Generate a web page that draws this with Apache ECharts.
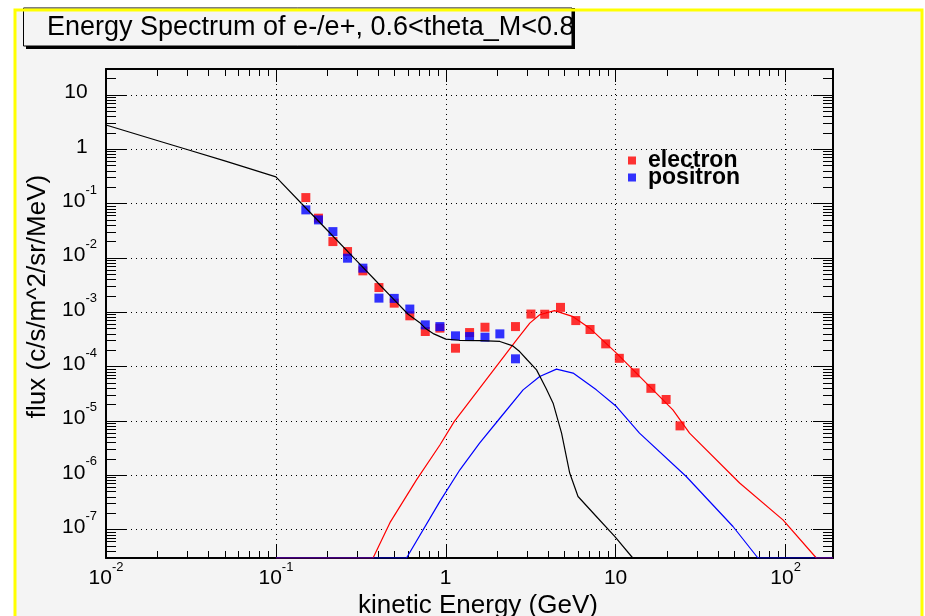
<!DOCTYPE html>
<html><head><meta charset="utf-8">
<script src="https://cdn.jsdelivr.net/npm/echarts@6/dist/echarts.min.js"></script>
<style>html,body{margin:0;padding:0;background:#fff}#c{width:925px;height:616px}</style>
</head><body><div id="c"></div>
<script>
// ---- text ----
const titleText = 'Energy Spectrum of e-/e+, 0.6<theta_M<0.8';
const xAxisTitle = 'kinetic Energy (GeV)';
const yAxisTitle = 'flux (c/s/m^2/sr/MeV)';
const legendNames = ['electron', 'positron'];
const xRange = [0.01, 190];
const yRange = [3e-8, 30];

// ---- measured points ----
const electronE = [0.15,0.178,0.2165,0.264,0.325,0.404,0.497,0.614,0.757,0.923,1.14,1.38,1.70,2.57,3.17,3.82,4.73,5.82,7.06,8.73,10.5,13.0,16.1,19.8,23.9];
const electronFlux = [0.129,0.0539,0.0200,0.0131,0.00578,0.00285,0.00147,8.6e-4,4.42e-4,5.1e-4,2.18e-4,4.23e-4,5.3e-4,5.45e-4,9.27e-4,9.2e-4,1.23e-3,7.03e-4,4.81e-4,2.62e-4,1.42e-4,7.67e-5,3.98e-5,2.48e-5,8.1e-6];
const positronE = [0.15,0.178,0.2165,0.264,0.325,0.404,0.497,0.614,0.757,0.923,1.14,1.38,1.70,2.08,2.57];
const positronFlux = [0.0766,0.0501,0.0305,0.00989,0.00648,0.00182,0.00180,0.001145,5.86e-4,5.45e-4,3.68e-4,3.57e-4,3.48e-4,4.0e-4,1.39e-4];

// ---- model curves ----
const totalModelE = [0.01,0.02,0.03,0.05,0.07,0.1,0.15,0.2,0.3,0.4,0.5,0.6,0.7,0.757,0.85,1.0,1.2,1.6,2.08,2.48,2.72,3.0,3.42,3.9,4.28,4.8,5.36,6.0,7.69,9.86,12.6];
const totalModelFlux = [2.8,1.45,0.99,0.61,0.44,0.31,0.083,0.0326,0.00873,0.00342,0.00166,9.2e-4,6.5e-4,5.1e-4,4.0e-4,3.2e-4,3.05e-4,3.0e-4,2.9e-4,2.4e-4,1.89e-4,1.35e-4,8.7e-5,3.9e-5,2.12e-5,5.96e-6,1.1e-6,4.06e-7,1.74e-7,7.5e-8,3e-8];
const electronModelE = [0.1,0.373,0.469,0.672,0.923,1.12,1.45,2.61,3.12,3.57,4.36,5.61,7.03,10.1,21.7,27.2,53.6,96.4,151.6,190];
const electronModelFlux = [3e-8,3e-8,1.34e-7,8.2e-7,3.6e-6,9.7e-6,2.8e-5,3.1e-4,6.3e-4,9.0e-4,1.07e-3,8.3e-4,5.1e-4,1.77e-4,1.6e-5,5.96e-6,7.2e-7,1.51e-7,3e-8,3e-8];
const positronModelE = [0.1,0.587,0.923,1.21,1.58,2.08,2.85,3.57,4.48,5.61,7.69,10.1,13.8,26.0,49.0,68.7,190];
const positronModelFlux = [3e-8,3e-8,3.3e-7,1.26e-6,3.9e-6,1.12e-5,3.73e-5,6.56e-5,8.97e-5,7.6e-5,3.73e-5,1.84e-5,5.96e-6,9.5e-7,1.14e-7,3e-8,3e-8];

const pairs = (xs, ys) => xs.map((x, i) => [x, ys[i]]);
const FONT = 'Liberation Sans, Arial, Helvetica, sans-serif';
const BG = '#f4f4f4';

function expLabel(v) {
  const e = Math.round(Math.log10(v));
  if (e === 0) return '{b|1}{z| }';
  if (e === 1) return '{b|10}{z| }';
  return '{b|10}{s|' + e + '}';
}
const richStyles = (zPadRight) => ({
  b: { fontFamily: FONT, fontSize: 21, lineHeight: 22, color: '#000', verticalAlign: 'bottom', padding: [0, 0, 3, 0] },
  s: { fontFamily: FONT, fontSize: 13, lineHeight: 22, color: '#000', verticalAlign: 'bottom', padding: [0, 0, 18, 0] },
  z: { fontFamily: FONT, fontSize: 1, lineHeight: 22, color: '#000', verticalAlign: 'bottom', padding: [0, zPadRight, 0, 0] }
});

function xAx(pos, primary) {
  return {
    type: 'log', logBase: 10, min: xRange[0], max: xRange[1], position: pos, gridIndex: 0,
    name: primary ? xAxisTitle : '', nameLocation: 'middle', nameGap: 35, nameMoveOverlap: false,
    nameTextStyle: { fontFamily: FONT, fontSize: 26, color: '#000', padding: [0, 0, 0, 17] },
    axisLine: { show: true, onZero: false, lineStyle: { color: '#000', width: 2 } },
    axisTick: { show: true, inside: true, length: 13, lineStyle: { color: '#000', width: 1 } },
    minorTick: { show: true, splitNumber: 9, length: 7, lineStyle: { color: '#000', width: 1 } },
    splitLine: { show: primary, lineStyle: { color: '#000', width: 1, type: [1, 4] } },
    minorSplitLine: { show: false },
    axisLabel: { show: primary, margin: 12, showMinLabel: true, showMaxLabel: false,
      formatter: v => expLabel(v), rich: richStyles(0) }
  };
}
function yAx(pos, primary) {
  return {
    type: 'log', logBase: 10, min: yRange[0], max: yRange[1], position: pos, gridIndex: 0,
    name: primary ? yAxisTitle : '', nameLocation: 'middle', nameGap: 55, nameRotate: 90,
    nameTextStyle: { fontFamily: FONT, fontSize: 26, color: '#000', padding: [0, 0, 0, 34] },
    axisLine: { show: true, onZero: false, lineStyle: { color: '#000', width: 2 } },
    axisTick: { show: true, inside: true, length: 20, lineStyle: { color: '#000', width: 1 } },
    minorTick: { show: true, splitNumber: 9, length: 10, lineStyle: { color: '#000', width: 1 } },
    splitLine: { show: primary, lineStyle: { color: '#000', width: 1, type: [1, 4] } },
    minorSplitLine: { show: false },
    axisLabel: { show: primary, margin: 9, showMinLabel: false, showMaxLabel: false, align: 'right',
      formatter: v => expLabel(v), rich: richStyles(9) }
  };
}

const chart = echarts.init(document.getElementById('c'), null, { renderer: 'canvas' });
chart.setOption({
  animation: false,
  backgroundColor: '#ffffff',
  graphic: [
    { type: 'rect', z: -100, shape: { x: 15, y: 10, width: 907, height: 640 },
      style: { fill: BG, stroke: null } },
    { type: 'rect', z: -90, shape: { x: 26, y: 8, width: 549, height: 41 }, style: { fill: '#000' } },
    { type: 'rect', z: -80, shape: { x: 23.5, y: 8, width: 548.5, height: 38 },
      style: { fill: BG, stroke: '#000', lineWidth: 1 } },
    { type: 'rect', z: -70, shape: { x: 15, y: 10, width: 907, height: 640 },
      style: { fill: null, stroke: '#ffff00', lineWidth: 3 } }
  ],
  title: { text: titleText, left: 47, top: 12, padding: 0,
    textStyle: { fontFamily: FONT, fontSize: 27, fontWeight: 'normal', color: '#000', lineHeight: 32 } },
  legend: { data: legendNames, orient: 'vertical', left: 628, top: 149, padding: 0, itemGap: -6,
    itemWidth: 8, itemHeight: 8, icon: 'rect',
    textStyle: { fontFamily: FONT, fontSize: 23, fontWeight: 'bold', color: '#000', padding: [0, 0, 0, 7] } },
  grid: { left: 106, top: 69, width: 727, height: 489, containLabel: false, outerBoundsMode: 'none' },
  xAxis: [xAx('bottom', true), xAx('top', false)],
  yAxis: [yAx('left', true), yAx('right', false)],
  series: [
    { name: 'electron', type: 'scatter', xAxisIndex: 0, yAxisIndex: 0, symbol: 'rect', symbolSize: 9,
      itemStyle: { color: '#ff0000' }, data: pairs(electronE, electronFlux), z: 3 },
    { name: 'positron', type: 'scatter', xAxisIndex: 0, yAxisIndex: 0, symbol: 'rect', symbolSize: 9,
      itemStyle: { color: '#0000ff' }, data: pairs(positronE, positronFlux), z: 3 },
    { name: 'electron model', type: 'line', showSymbol: false, symbol: 'none', smooth: false,
      lineStyle: { color: '#ff0000', width: 1.2 }, data: pairs(electronModelE, electronModelFlux), z: 4 },
    { name: 'positron model', type: 'line', showSymbol: false, symbol: 'none',
      lineStyle: { color: '#0000ff', width: 1.2 }, data: pairs(positronModelE, positronModelFlux), z: 4 },
    { name: 'total model', type: 'line', showSymbol: false, symbol: 'none',
      lineStyle: { color: '#000000', width: 1.2 }, data: pairs(totalModelE, totalModelFlux), z: 5 }
  ]
});
</script></body></html>
